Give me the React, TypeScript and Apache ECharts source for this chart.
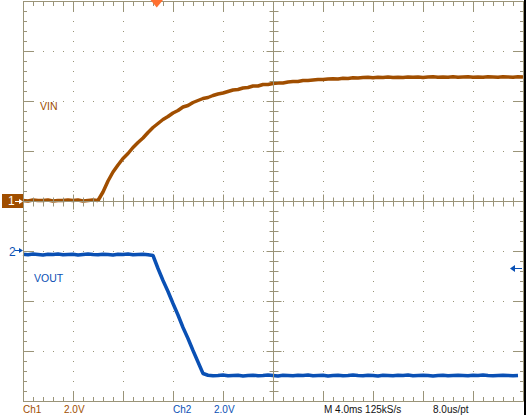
import React, { useEffect, useRef } from "react";
import * as echarts from "echarts";

// time in ms (M 4.0ms / div, 10 divisions)
const times = [0,0.4,0.8,1.2,1.6,2,2.4,2.8,3.2,3.6,4,4.4,4.8,5.2,5.6,6,6.4,6.8,7.2,7.6,8,8.4,8.8,9.2,9.6,10,10.4,10.8,11.2,11.6,12,12.4,12.8,13.2,13.6,14,14.4,14.8,15.2,15.6,16,16.4,16.8,17.2,17.6,18,18.4,18.8,19.2,19.6,20,20.4,20.8,21.2,21.6,22,22.4,22.8,23.2,23.6,24,24.4,24.8,25.2,25.6,26,26.4,26.8,27.2,27.6,28,28.4,28.8,29.2,29.6,30,30.4,30.8,31.2,31.6,32,32.4,32.8,33.2,33.6,34,34.4,34.8,35.2,35.6,36,36.4,36.8,37.2,37.6,38,38.4,38.8,39.2,39.6,40];

// VIN (Ch1), volts
const vin = [
  0.02, 0.0, 0.04, 0.02, 0.02, 0.04, 0.0, 0.02, 0.02, 0.04, 0.02, 0.04, 0.0, 0.02, 0.04, 0.02,
  0.36, 0.8, 1.16, 1.44, 1.70, 1.90, 2.14, 2.34, 2.52, 2.74, 2.94, 3.10, 3.26, 3.38, 3.52,
  3.62, 3.76, 3.82, 3.94, 4.02, 4.10, 4.14, 4.22, 4.28, 4.32, 4.38, 4.44, 4.46, 4.52, 4.54,
  4.60, 4.60, 4.66, 4.66, 4.70, 4.72, 4.72, 4.76, 4.78, 4.78, 4.82, 4.82, 4.84, 4.86, 4.86,
  4.88, 4.89, 4.88, 4.91, 4.90, 4.93, 4.92, 4.94, 4.95, 4.93, 4.95, 4.94, 4.96, 4.94, 4.95,
  4.94, 4.96, 4.95, 4.96, 4.94, 4.96, 4.97, 4.95, 4.96, 4.95, 4.97, 4.95, 4.96, 4.97, 4.95,
  4.96, 4.95, 4.97, 4.96, 4.95, 4.97, 4.96, 4.95, 4.97, 4.96
];

// VOUT (Ch2), volts
const vout = [
  -0.13, -0.15, -0.12, -0.14, -0.16, -0.13, -0.14, -0.12, -0.15, -0.14, -0.13, -0.16, -0.14,
  -0.12, -0.14, -0.15, -0.13, -0.14, -0.16, -0.13, -0.14, -0.12, -0.15, -0.14, -0.13, -0.15,
  -0.18, -0.70, -1.18, -1.62, -2.10, -2.56, -3.06, -3.50, -3.98, -4.44, -4.90,
  -4.97, -4.99, -4.98, -4.96, -4.99, -4.98, -4.97, -5.00, -4.98, -4.97, -4.99, -4.98, -4.96,
  -4.98, -5.00, -4.97, -4.98, -4.99, -4.97, -4.98, -4.96, -4.99, -4.98, -4.97, -5.00, -4.98,
  -4.97, -4.99, -4.98, -4.96, -4.98, -4.99, -4.97, -4.98, -5.00, -4.97, -4.98, -4.99, -4.97,
  -4.98, -4.96, -4.99, -4.98, -4.97, -4.98, -5.00, -4.98, -4.97, -4.99, -4.98, -4.97, -4.98,
  -4.99, -4.97, -4.98, -4.96, -4.98, -4.99, -4.98, -4.97, -4.98, -4.99, -4.98
];

const voltsPerDiv = 2;
const ch1Offset = 4; // divisions from bottom
const ch2Offset = 3;

const statusTexts = [
  { text: "Ch1", x: 23, color: "#a04e00" },
  { text: "2.0V", x: 64, color: "#a04e00" },
  { text: "Ch2", x: 173, color: "#0a50b4" },
  { text: "2.0V", x: 214, color: "#0a50b4" },
  { text: "M 4.0ms 125kS/s", x: 324, color: "#111111" },
  { text: "8.0us/pt", x: 433, color: "#111111" },
];

const GRID = "#9a9478";
const BROWN = "#a04e00";
const BLUE = "#0a50b4";

export default function App() {
  const ref = useRef<HTMLDivElement>(null);
  useEffect(() => {
    if (!ref.current) return;
    const chart = echarts.init(ref.current, null, { renderer: "svg" });
    const L = 23, T = 1, W = 500, H = 400;
    const R = L + W, B = T + H;
    const cx = L + W / 2, cy = T + H / 2;
    const g: any[] = [];
    const ln = (x1: number, y1: number, x2: number, y2: number, color = GRID, w = 1) =>
      g.push({ type: "line", shape: { x1, y1, x2, y2 }, style: { stroke: color, lineWidth: w }, silent: true, z: 10 });
    // border
    ln(L + 0.5, T + 0.5, R + 0.5, T + 0.5);
    ln(L + 0.5, B + 0.5, R + 0.5, B + 0.5);
    ln(L + 0.5, T + 0.5, L + 0.5, B + 0.5);
    ln(R + 0.5, T + 0.5, R + 0.5, B + 0.5);
    // center lines
    ln(cx + 0.5, T, cx + 0.5, B);
    ln(L, cy + 0.5, R, cy + 0.5);
    // ticks along vertical edges / center
    for (let k = 1; k < 40; k++) {
      const y = T + k * 10 + 0.5;
      const major = k % 5 === 0;
      const len = major ? 10 : 4;
      ln(L, y, L + len, y);
      ln(R + 1, y, R + 1 - len, y);
      const c = major ? 7 : 4;
      ln(cx + 0.5 - c, y, cx + 0.5 + c + 1, y);
    }
    for (let k = 1; k < 50; k++) {
      const x = L + k * 10 + 0.5;
      const major = k % 5 === 0;
      const len = major ? 10 : 5;
      ln(x, T, x, T + len);
      ln(x, B + 1, x, B + 1 - len);
      const c = major ? 7 : 4;
      ln(x, cy + 0.5 - c, x, cy + 0.5 + c + 1);
    }
    // right black bar
    g.push({ type: "rect", shape: { x: 524, y: 0, width: 2, height: 415 }, style: { fill: "#000" }, silent: true, z: 11 });
    // trigger position marker
    g.push({ type: "polygon", shape: { points: [[150.5, 0], [163, 0], [156.75, 7.5]] }, style: { fill: "#ff7030" }, z: 20 });
    // Ch1 marker
    g.push({ type: "rect", shape: { x: 2, y: 194, width: 21, height: 14 }, style: { fill: BROWN }, z: 12 });
    g.push({ type: "text", x: 8, y: 201, style: { text: "1", fill: "#fff", font: "12px 'Liberation Sans'", textVerticalAlign: "middle" }, z: 13 });
    g.push({ type: "line", shape: { x1: 15, y1: 201.5, x2: 21, y2: 201.5 }, style: { stroke: "#fff", lineWidth: 1 }, z: 13 });
    g.push({ type: "polygon", shape: { points: [[19, 199], [23, 201.5], [19, 204]] }, style: { fill: "#fff" }, z: 13 });
    // Ch2 marker
    g.push({ type: "text", x: 9, y: 252, style: { text: "2", fill: BLUE, font: "12px 'Liberation Sans'", textVerticalAlign: "middle" }, z: 13 });
    g.push({ type: "line", shape: { x1: 15, y1: 250.5, x2: 20, y2: 250.5 }, style: { stroke: BLUE, lineWidth: 1 }, z: 13 });
    g.push({ type: "polygon", shape: { points: [[19, 248], [23, 250.5], [19, 253]] }, style: { fill: BLUE }, z: 13 });
    // trigger level arrow
    g.push({ type: "line", shape: { x1: 514, y1: 268.5, x2: 522, y2: 268.5 }, style: { stroke: BLUE, lineWidth: 1 }, z: 13 });
    g.push({ type: "polygon", shape: { points: [[515, 265], [510, 268.5], [515, 272]] }, style: { fill: BLUE }, z: 13 });
    // labels
    g.push({ type: "text", x: 40, y: 106, style: { text: "VIN", fill: BROWN, font: "10.5px 'Liberation Sans'", textVerticalAlign: "middle" }, z: 13 });
    g.push({ type: "text", x: 34, y: 278, style: { text: "VOUT", fill: BLUE, font: "10.5px 'Liberation Sans'", textVerticalAlign: "middle" }, z: 13 });
    statusTexts.forEach((s) =>
      g.push({ type: "text", x: s.x, y: 409.5, style: { text: s.text, fill: s.color, font: "10px 'Liberation Sans'", textVerticalAlign: "middle" }, z: 13 })
    );

    chart.setOption({
      animation: false,
      backgroundColor: "#ffffff",
      grid: { left: L, top: T, width: W, height: H, containLabel: false },
      xAxis: {
        type: "value", min: 0, max: 40, interval: 4,
        axisLine: { show: false }, axisTick: { show: false }, axisLabel: { show: false },
        splitLine: { show: true, lineStyle: { color: GRID, width: 1, type: [1, 9] } },
      },
      yAxis: {
        type: "value", min: 0, max: 8, interval: 1,
        axisLine: { show: false }, axisTick: { show: false }, axisLabel: { show: false },
        splitLine: { show: true, lineStyle: { color: GRID, width: 1, type: [1, 9] } },
      },
      series: [
        {
          name: "VIN", type: "line", showSymbol: false, symbol: "none",
          data: times.map((t, i) => [t, ch1Offset + vin[i] / voltsPerDiv]),
          lineStyle: { color: BROWN, width: 3.5 }, z: 5,
        },
        {
          name: "VOUT", type: "line", showSymbol: false, symbol: "none",
          data: times.map((t, i) => [t, ch2Offset + vout[i] / voltsPerDiv]),
          lineStyle: { color: BLUE, width: 3.5 }, z: 5,
        },
      ],
      graphic: g,
    });
    return () => chart.dispose();
  }, []);
  return <div ref={ref} style={{ position: "fixed", left: 0, top: 0, width: 527, height: 415, background: "#fff" }} />;
}
